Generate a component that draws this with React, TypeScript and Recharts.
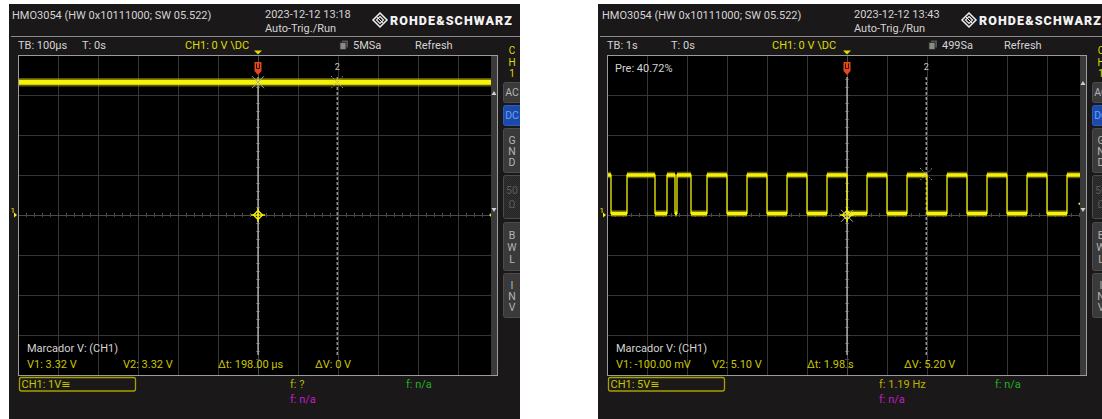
import React from 'react';
import { LineChart, Line, XAxis, YAxis, ReferenceLine, ReferenceDot } from 'recharts';

const FONT = 'Roboto, "DejaVu Sans", sans-serif';
const SCREEN_BG = '#1b1819';
const GRID = '#363636';
const AXIS = '#4a4a4a';
const TRACE = '#f5f10a';
const TRACE_FUZZ = '#a8a200';
const TXT = '#d4d4d4';
const CH_YELLOW = '#dcdc00';
const READ_YELLOW = '#c9c600';

// Capture A: 3.3 V supply rail, 100 µs/div, 1 V/div
const railTimeUs = [-600, 600];
const railVolt = [3.32, 3.32];
const railCursorTimeUs = [0, 198];
const railCursorVolt = [3.32, 3.32];
const railReadout = ['V1: 3.32 V', 'V2: 3.32 V', 'Δt: 198.00 µs', 'ΔV: 0 V'];

// Capture B: pulse train, 1 s/div, 5 V/div (edge times and the level after each edge)
const pulseTimeS = [
  -6.0, -5.9, -5.5, -4.8, -4.5, -4.3, -4.25, -3.9, -3.5, -3.0,
  -2.5, -2.0, -1.5, -1.0, -0.5, 0.0, 0.5, 1.0, 1.5, 2.0,
  2.5, 3.0, 3.5, 4.0, 4.5, 5.0, 5.5, 6.0,
];
const pulseVolt = [
  5.0, 0.2, 5.0, 0.2, 5.0, 0.2, 5.0, 0.2, 5.0, 0.2,
  5.0, 0.2, 5.0, 0.2, 5.0, 0.2, 5.0, 0.2, 5.0, 0.2,
  5.0, 0.2, 5.0, 0.2, 5.0, 0.2, 5.0, 5.0,
];
const pulseCursorTimeS = [0, 1.98];
const pulseCursorVolt = [-0.1, 5.1];
const pulseReadout = ['V1: -100.00 mV', 'V2: 5.10 V', 'Δt: 1.98 s', 'ΔV: 5.20 V'];

const readoutX = [18, 114, 209, 306];

type ScreenSpec = {
  id: string;
  left: number;
  width: number;
  stamp: string;
  timebase: string;
  sampleRate: string;
  chScale: string;
  freq: string;
  xDiv: number;
  yDiv: number;
  traceT: number[];
  traceV: number[];
  cursorT: number[];
  cursorV: number[];
  readout: string[];
  trigLevel: number;
  trigIndicator: number;
  core: number;
  halo: number;
  scrollUpY: number;
  pre?: string;
  hdrX: number;
  chTrigX: number;
};

const screens: ScreenSpec[] = [
  {
    id: 'a', left: 9, width: 511, stamp: '2023-12-12 13:18', timebase: 'TB: 100µs',
    sampleRate: '5MSa', chScale: 'CH1: 1V', freq: 'f: ?', xDiv: 100, yDiv: 1,
    traceT: railTimeUs, traceV: railVolt, cursorT: railCursorTimeUs, cursorV: railCursorVolt,
    readout: railReadout, trigLevel: 0, trigIndicator: 0, core: 5, halo: 8.5, scrollUpY: 88,
    hdrX: 3, chTrigX: 176,
  },
  {
    id: 'b', left: 598, width: 504, stamp: '2023-12-12 13:43', timebase: 'TB: 1s',
    sampleRate: '499Sa', chScale: 'CH1: 5V', freq: 'f: 1.19 Hz', xDiv: 1, yDiv: 5,
    traceT: pulseTimeS, traceV: pulseVolt, cursorT: pulseCursorTimeS, cursorV: pulseCursorVolt,
    readout: pulseReadout, trigLevel: 0, trigIndicator: 1.4, core: 3.5, halo: 6.5, scrollUpY: 78,
    pre: 'Pre: 40.72%', hdrX: 4, chTrigX: 174,
  },
];

const GRID_L = 9;
const GRID_T = 51;
const GRID_W = 480;
const GRID_H = 320;

type TProps = {
  x: number; y: number; c?: string; s?: number; w?: number; a?: 'start' | 'middle' | 'end';
  ls?: number; children: React.ReactNode;
};
const T = ({ x, y, c = TXT, s = 11, w = 400, a = 'start', ls = 0, children }: TProps) => (
  <text x={x} y={y} fill={c} fontSize={s} fontWeight={w} textAnchor={a}
    dominantBaseline="central" letterSpacing={ls} fontFamily={FONT}>{children}</text>
);

const crossShape = (dotted: boolean) => (p: any) => (
  <g stroke="#a8a8a8" strokeWidth={1} strokeDasharray={dotted ? '1.5 1.5' : undefined} fill="none">
    <line x1={p.cx - 6} y1={p.cy - 6} x2={p.cx + 6} y2={p.cy + 6} />
    <line x1={p.cx - 6} y1={p.cy + 6} x2={p.cx + 6} y2={p.cy - 6} />
  </g>
);

const trigShape = (p: any) => (
  <g stroke={TRACE} strokeWidth={1.4} fill="none">
    <path d={`M${p.cx},${p.cy - 4.5} L${p.cx + 4.5},${p.cy} L${p.cx},${p.cy + 4.5} L${p.cx - 4.5},${p.cy} Z`} />
    <line x1={p.cx} y1={p.cy - 7} x2={p.cx} y2={p.cy + 7} />
    <line x1={p.cx - 7} y1={p.cy} x2={p.cx + 7} y2={p.cy} />
  </g>
);

const levelShape = (p: any) => (
  <path d={`M${p.cx - 5},${p.cy - 3} L${p.cx - 5},${p.cy + 3} L${p.cx - 9},${p.cy} Z`} fill={TRACE} />
);

const tagOneShape = (p: any) => (
  <g>
    <path d={`M${p.cx - 3.5},${p.cy + 7} h7 v9 l-3.5,4 l-3.5,-4 Z`} fill="#e4481c" />
    <path d={`M${p.cx - 1.5},${p.cy + 8.5} v5 h3 v-5`} fill="none" stroke="#2a0a00" strokeWidth={1} />
  </g>
);

const tagTwoShape = (p: any) => (
  <text x={p.cx} y={p.cy + 12} fill="#c8c8c8" fontSize={9} textAnchor="middle"
    dominantBaseline="central" fontFamily={FONT}>2</text>
);

function Scope({ s }: { s: ScreenSpec }) {
  const xMin = -6 * s.xDiv;
  const xMax = 6 * s.xDiv;
  const yMin = -4 * s.yDiv;
  const yMax = 4 * s.yDiv;
  const majorX = Array.from({ length: 13 }, (_, i) => (i - 6) * s.xDiv);
  const majorY = Array.from({ length: 9 }, (_, i) => (i - 4) * s.yDiv);
  const minorX = Array.from({ length: 61 }, (_, i) => (i - 30) * 0.2 * s.xDiv);
  const minorY = Array.from({ length: 41 }, (_, i) => (i - 20) * 0.2 * s.yDiv);
  const tx = 0.05 * s.xDiv;
  const ty = 0.05 * s.yDiv;

  const edges = s.traceT.map((t, i) => ({ t, v: s.traceV[i] }));
  const plateaus: { t: number; v: number | null }[] = [];
  for (let i = 0; i < s.traceT.length - 1; i++) {
    plateaus.push({ t: s.traceT[i], v: s.traceV[i] });
    plateaus.push({ t: s.traceT[i + 1], v: s.traceV[i] });
    plateaus.push({ t: s.traceT[i + 1], v: null });
  }

  const buttons = [
    { y0: 78, y1: 98, l: ['AC'], k: 'n' },
    { y0: 101, y1: 121, l: ['DC'], k: 'on' },
    { y0: 124, y1: 168, l: ['G', 'N', 'D'], k: 'n' },
    { y0: 171, y1: 214, l: ['50', 'Ω'], k: 'off' },
    { y0: 218, y1: 266, l: ['B', 'W', 'L'], k: 'n' },
    { y0: 269, y1: 313, l: ['I', 'N', 'V'], k: 'n' },
  ];

  return (
    <div style={{ position: 'absolute', left: s.left, top: 4, width: s.width, height: 415, background: SCREEN_BG, overflow: 'hidden' }}>
      <div style={{ position: 'absolute', left: GRID_L, top: GRID_T, width: GRID_W, height: GRID_H, background: '#000' }}>
        <LineChart width={GRID_W} height={GRID_H} margin={{ top: 0, right: 0, bottom: 0, left: 0 }}>
          <XAxis type="number" dataKey="t" domain={[xMin, xMax]} hide allowDataOverflow />
          <YAxis type="number" domain={[yMin, yMax]} hide allowDataOverflow />
          {majorX.map((v) => (
            <ReferenceLine key={`gx${v}`} x={v} stroke={v === 0 ? AXIS : GRID} shapeRendering="crispEdges" />
          ))}
          {majorY.map((v) => (
            <ReferenceLine key={`gy${v}`} y={v} stroke={v === 0 ? AXIS : GRID} shapeRendering="crispEdges" />
          ))}
          {minorX.map((v, i) => (
            <ReferenceLine key={`mx${i}`} segment={[{ x: v, y: -ty }, { x: v, y: ty }]} stroke={AXIS} shapeRendering="crispEdges" />
          ))}
          {minorY.map((v, i) => (
            <ReferenceLine key={`my${i}`} segment={[{ x: -tx, y: v }, { x: tx, y: v }]} stroke={AXIS} shapeRendering="crispEdges" />
          ))}
          <ReferenceLine segment={[{ x: s.cursorT[0], y: 3.45 * s.yDiv }, { x: s.cursorT[0], y: -3.5 * s.yDiv }]}
            stroke="#e6e6e6" strokeWidth={1} />
          <ReferenceLine segment={[{ x: s.cursorT[1], y: 3.45 * s.yDiv }, { x: s.cursorT[1], y: -3.55 * s.yDiv }]}
            stroke="#d8d8d8" strokeWidth={1} strokeDasharray="3 2" />
          <Line data={plateaus} dataKey="v" type="linear" stroke={TRACE_FUZZ} strokeOpacity={0.55}
            strokeWidth={s.halo} dot={false} activeDot={false} isAnimationActive={false} connectNulls={false} />
          <Line data={edges} dataKey="v" type="stepAfter" stroke={TRACE} strokeWidth={1.3}
            dot={false} activeDot={false} isAnimationActive={false} />
          <Line data={plateaus} dataKey="v" type="linear" stroke={TRACE} strokeWidth={s.core}
            dot={false} activeDot={false} isAnimationActive={false} connectNulls={false} />
          <ReferenceDot x={0} y={s.trigLevel} r={0} shape={trigShape} ifOverflow="visible" />
          <ReferenceDot x={s.cursorT[0]} y={s.cursorV[0]} r={0} shape={crossShape(false)} ifOverflow="visible" />
          <ReferenceDot x={s.cursorT[1]} y={s.cursorV[1]} r={0} shape={crossShape(true)} ifOverflow="visible" />
          <ReferenceDot x={s.cursorT[0]} y={yMax} r={0} shape={tagOneShape} ifOverflow="visible" />
          <ReferenceDot x={s.cursorT[1]} y={yMax} r={0} shape={tagTwoShape} ifOverflow="visible" />
          <ReferenceDot x={xMax} y={s.trigIndicator} r={0} shape={levelShape} ifOverflow="visible" />
        </LineChart>
      </div>

      <svg width={s.width} height={415} style={{ position: 'absolute', left: 0, top: 0 }}>
        <defs>
          <pattern id={`chk${s.id}`} width={2} height={2} patternUnits="userSpaceOnUse">
            <rect width={2} height={2} fill="#242424" />
            <rect width={1} height={1} fill="#333" />
            <rect x={1} y={1} width={1} height={1} fill="#333" />
          </pattern>
        </defs>

        {/* title bar */}
        <T x={s.hdrX} y={11.5}>HMO3054 (HW 0x10111000; SW 05.522)</T>
        <T x={256} y={10}>{s.stamp}</T>
        <T x={256} y={24}>Auto-Trig./Run</T>
        <g stroke="#f0f0f0" strokeWidth={1.5} fill="none">
          <path d="M371,9 L378,16 L371,23 L364,16 Z" />
          <path d="M371,12.5 L374.5,16 L371,19.5 L367.5,16 Z" strokeWidth={1.1} />
          <line x1={367.5} y1={12.5} x2={374.5} y2={19.5} strokeWidth={1} />
        </g>
        <T x={381} y={16} c="#f2f2f2" s={12.5} w={900} ls={1.1}>ROHDE&amp;SCHWARZ</T>
        <line x1={2} y1={32.5} x2={s.width} y2={32.5} stroke="#8c8c8c" strokeWidth={1} />

        {/* status row */}
        <T x={9} y={41}>{s.timebase}</T>
        <T x={73} y={41}>T: 0s</T>
        <T x={s.chTrigX} y={41} c={CH_YELLOW}>CH1: 0 V \DC</T>
        <rect x={333} y={36.5} width={6} height={7} fill="#555" />
        <rect x={331} y={38.5} width={6} height={7} fill="#8a8a8a" stroke="#2a2a2a" strokeWidth={0.8} />
        <T x={344} y={41}>{s.sampleRate}</T>
        <T x={406} y={41}>Refresh</T>
        <T x={503} y={46} c={CH_YELLOW} s={10} a="middle">C</T>
        <T x={503} y={58} c={CH_YELLOW} s={10} a="middle">H</T>
        <T x={503} y={69} c={CH_YELLOW} s={10} a="middle">1</T>

        {/* trigger position */}
        <path d={`M${GRID_L + 236},${GRID_T - 4.5} h8 l-4,4 Z`} fill={CH_YELLOW} />

        {/* scroll strip and frame */}
        <rect x={482} y={GRID_T} width={6.5} height={GRID_H} fill="#3a3a3a" />
        <path d={`M482.5,${s.scrollUpY + 3} l2.5,-4 l2.5,4 Z`} fill="#d0d0d0" />
        <path d="M482.5,204 l2.5,4 l2.5,-4 Z" fill="#d0d0d0" />
        <rect x={GRID_L + 0.5} y={GRID_T + 0.5} width={GRID_W - 1} height={GRID_H} fill="none" stroke="#9c9c9c" strokeWidth={1} />

        {/* ground reference */}
        <T x={1.5} y={206} c={TRACE} s={8}>1</T>
        <path d="M5,208.5 l3,2.5 l-3,2.5 Z" fill={TRACE} />

        {s.pre && <T x={17} y={64}>{s.pre}</T>}

        {/* cursor readout */}
        <T x={18} y={344}>Marcador V: (CH1)</T>
        {s.readout.map((r, i) => (
          <T key={r} x={readoutX[i]} y={360} c={READ_YELLOW}>{r}</T>
        ))}

        {/* channel / measurement footer */}
        <rect x={10.5} y={373.5} width={116} height={13.5} rx={2} fill="none" stroke="#a89f00" strokeWidth={1.3} />
        <T x={12.5} y={380.5} c={READ_YELLOW}>{s.chScale}≅</T>
        <T x={281} y={380.5} c="#b9b400">{s.freq}</T>
        <T x={281} y={395} c="#c21fc2">f: n/a</T>
        <T x={397} y={380.5} c="#22b022">f: n/a</T>

        {/* channel menu buttons */}
        {buttons.map((b, i) => {
          const fill = b.k === 'on' ? '#1d49a8' : b.k === 'off' ? `url(#chk${s.id})` : '#3a3a3a';
          const col = b.k === 'on' ? '#64a0ff' : b.k === 'off' ? '#5a5a5a' : '#b4b4b4';
          const n = b.l.length;
          return (
            <g key={i}>
              <rect x={494.5} y={b.y0 + 0.5} width={30} height={b.y1 - b.y0} rx={2} fill={fill}
                stroke={b.k === 'on' ? '#2d5cc0' : '#4c4c4c'} strokeWidth={1} />
              {b.l.map((ch, j) => (
                <T key={j} x={503} y={n === 1 ? (b.y0 + b.y1) / 2 + 0.5 : b.y0 + ((j + 1) * (b.y1 - b.y0)) / (n + 1) + 1}
                  c={col} s={10.5} a="middle">{ch}</T>
              ))}
            </g>
          );
        })}
      </svg>
    </div>
  );
}

export default function App() {
  return (
    <div style={{ position: 'absolute', left: 0, top: 0, width: 1102, height: 419, background: '#fff', overflow: 'hidden' }}>
      {screens.map((s) => (
        <Scope key={s.id} s={s} />
      ))}
    </div>
  );
}
